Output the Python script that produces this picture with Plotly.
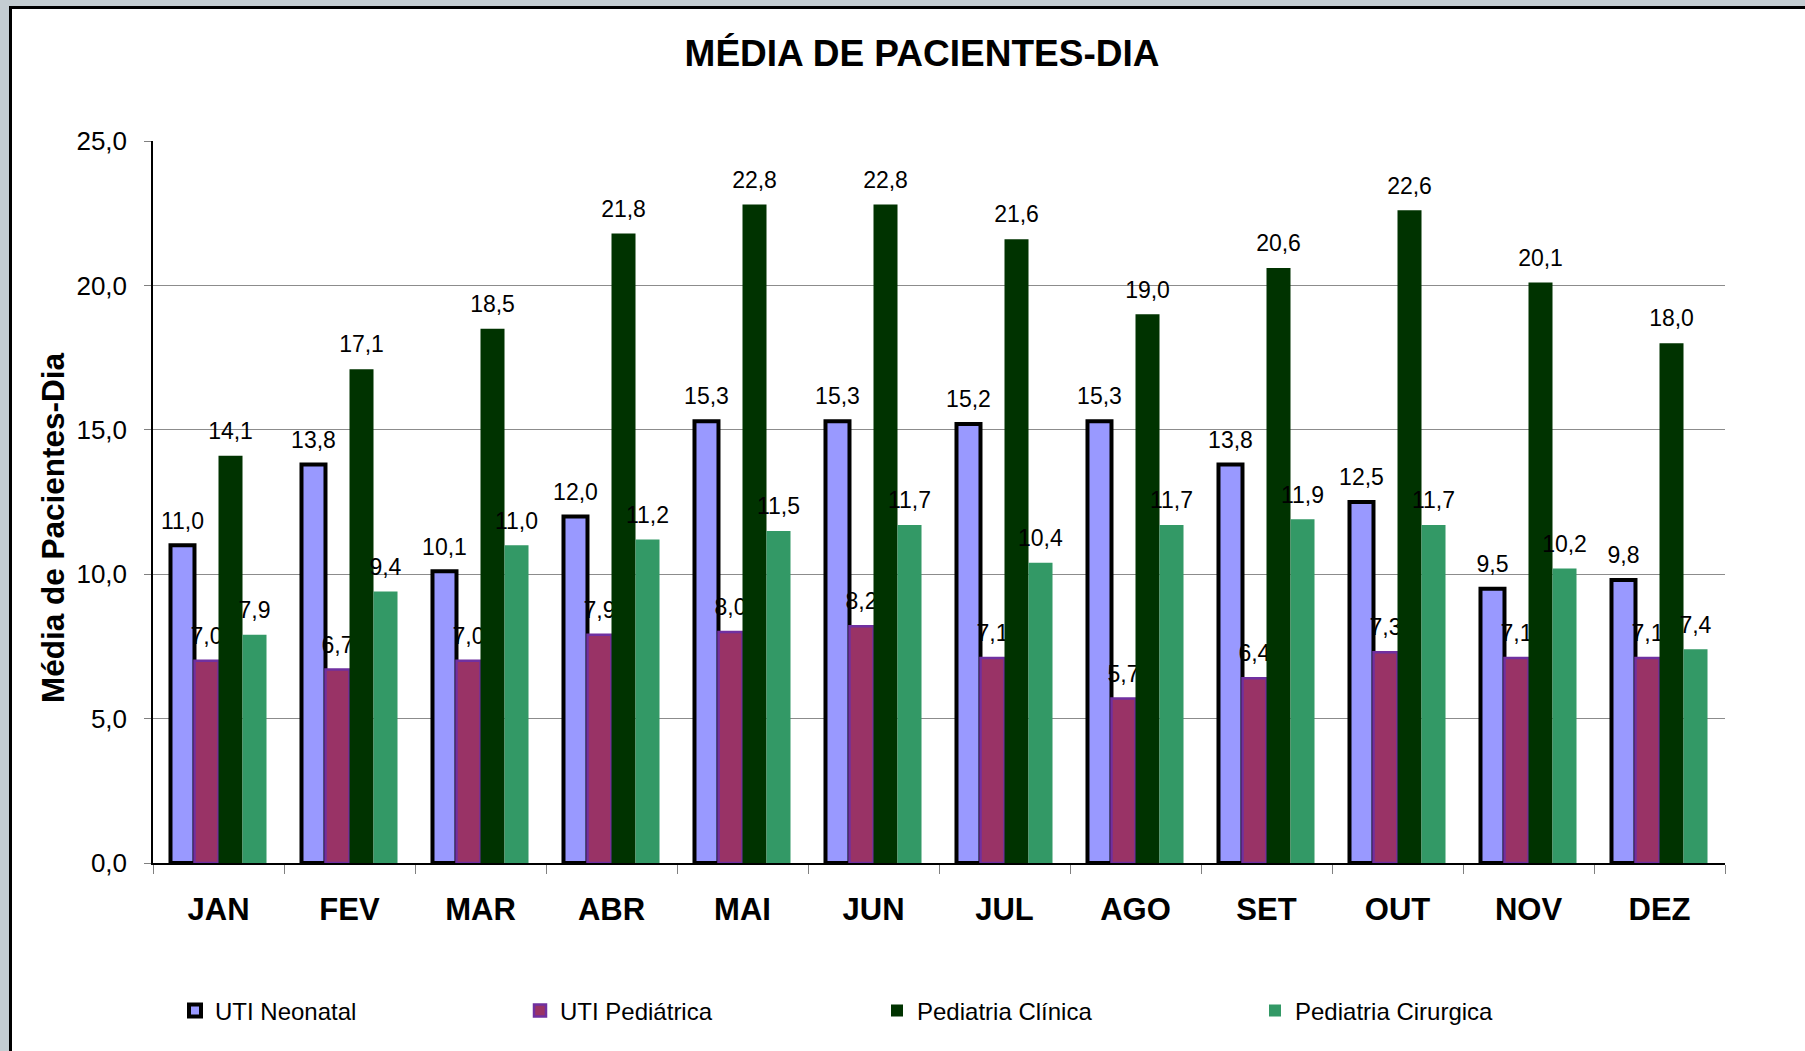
import plotly.graph_objects as go

meses = ["JAN", "FEV", "MAR", "ABR", "MAI", "JUN", "JUL", "AGO", "SET", "OUT", "NOV", "DEZ"]
uti_neonatal = [11.0, 13.8, 10.1, 12.0, 15.3, 15.3, 15.2, 15.3, 13.8, 12.5, 9.5, 9.8]
uti_pediatrica = [7.0, 6.7, 7.0, 7.9, 8.0, 8.2, 7.1, 5.7, 6.4, 7.3, 7.1, 7.1]
pediatria_clinica = [14.1, 17.1, 18.5, 21.8, 22.8, 22.8, 21.6, 19.0, 20.6, 22.6, 20.1, 18.0]
pediatria_cirurgica = [7.9, 9.4, 11.0, 11.2, 11.5, 11.7, 10.4, 11.7, 11.9, 11.7, 10.2, 7.4]
y_ticks = [0, 5, 10, 15, 20, 25]

W, H = 1805, 1051
L, R, T, B = 153, 80, 141, 188
PW, PH = W - L - R, H - T - B

def px_x(p):
    return (p - L) / PW

def px_y(p):
    return (H - B - p) / PH

FONT = "Liberation Sans, Arial, sans-serif"

series = [
    ("UTI Neonatal", uti_neonatal, "#9999FF", "#000000", 4, "legend"),
    ("UTI Pediátrica", uti_pediatrica, "#993366", "#7030A0", 2.5, "legend2"),
    ("Pediatria Clínica", pediatria_clinica, "#003300", "#003300", 0, "legend3"),
    ("Pediatria Cirurgica", pediatria_cirurgica, "#339966", "#339966", 0, "legend4"),
]

fig = go.Figure()
for name, vals, fill, line, lw, lg in series:
    fig.add_trace(go.Bar(
        x=meses, y=vals, name=name, legend=lg, showlegend=True,
        marker=dict(color=fill, line=dict(color=line, width=lw)),
        texttemplate="<span style='font-size:23px'>%{y:.1f}</span><br>\u00a0",
        textposition="outside",
        textfont=dict(family=FONT, size=9, color="#000000"),
        constraintext="none", cliponaxis=False,
    ))

legend_text_x = [215, 560, 917, 1295]
legend_common = dict(
    orientation="h", xref="container", yref="container",
    xanchor="left", yanchor="middle", y=1 - 1011 / H,
    font=dict(family=FONT, size=24, color="#000000"),
    bgcolor="rgba(0,0,0,0)", itemwidth=30, tracegroupgap=0,
)
legends = {}
for i, tx in enumerate(legend_text_x):
    key = "legend" if i == 0 else f"legend{i+1}"
    legends[key] = dict(legend_common, x=(tx - 40) / W)

fig.update_layout(
    width=W, height=H,
    margin=dict(l=L, r=R, t=T, b=B, autoexpand=False),
    paper_bgcolor="#c4cdd2",
    plot_bgcolor="rgba(0,0,0,0)",
    separators=",.",
    showlegend=True,
    barmode="group", bargap=0.267, bargroupgap=0,
    title=dict(text="MÉDIA DE PACIENTES-DIA", x=922 / W, xref="container", xanchor="center",
               y=1 - 53 / H, yref="container", yanchor="middle",
               font=dict(family=FONT, size=37, color="#000000", weight="bold")),
    xaxis=dict(
        type="category", tickson="boundaries", ticks="outside", ticklen=9, tickcolor="#808080",
        showline=True, linecolor="#000000", linewidth=1.5, showgrid=False,
        tickfont=dict(family=FONT, size=31, color="#000000", weight="bold"),
        ticklabelstandoff=18,
    ),
    yaxis=dict(
        range=[0, 25], tickvals=y_ticks, tickformat=".1f",
        ticks="outside", ticklen=7, tickcolor="#808080",
        showline=True, linecolor="#000000", linewidth=1.5,
        showgrid=True, gridcolor="#8c8c8c", gridwidth=1.3, zeroline=False,
        tickfont=dict(family=FONT, size=26, color="#000000"),
        ticklabelstandoff=12,
    ),
    shapes=[dict(type="rect", xref="paper", yref="paper", layer="below",
                 x0=px_x(10.5), x1=px_x(1830), y0=px_y(1080), y1=px_y(7.5),
                 fillcolor="#ffffff", line=dict(color="#000000", width=3))],
    annotations=[dict(text="Média de Pacientes-Dia", textangle=-90, showarrow=False,
                      xref="paper", yref="paper", x=px_x(53), y=px_y(528),
                      xanchor="center", yanchor="middle",
                      font=dict(family=FONT, size=31.5, color="#000000", weight="bold"))],
    **legends,
)

fig.write_html(
    "out.html",
    config={"displayModeBar": False},
    post_script="document.body.style.margin='0px';document.body.style.backgroundColor='#c4cdd2';document.body.style.overflow='hidden';",
)
